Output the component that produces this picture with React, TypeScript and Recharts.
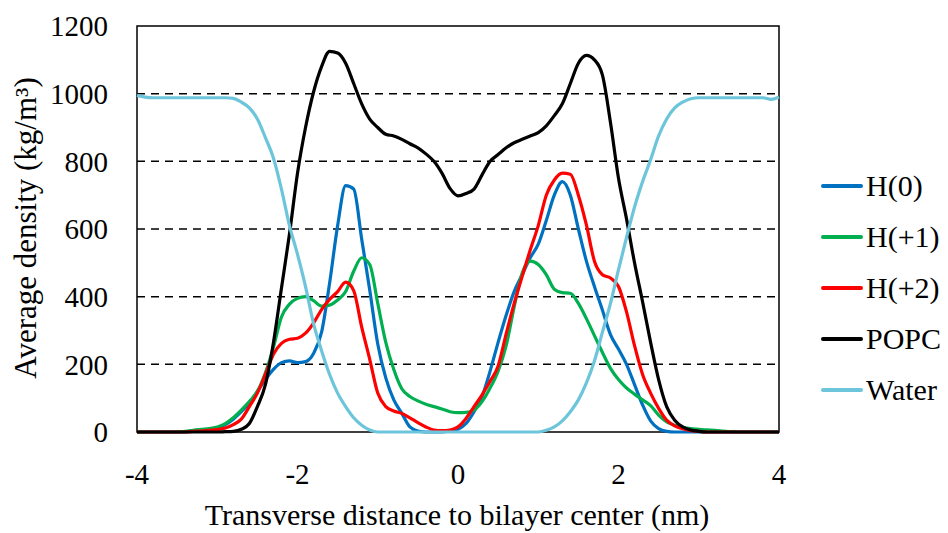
import React, { useEffect, useState } from 'react';
import { LineChart, Line, XAxis, YAxis, CartesianGrid, ReferenceArea, Label } from 'recharts';

// transverse distance to bilayer center (nm), 0.1 nm steps
const distance = [
  -4.0, -3.9, -3.8, -3.7, -3.6, -3.5, -3.4, -3.3, -3.2, -3.1,
  -3.0, -2.9, -2.8, -2.7, -2.6, -2.5, -2.4, -2.3, -2.2, -2.1,
  -2.0, -1.9, -1.8, -1.7, -1.6, -1.5, -1.4, -1.3, -1.2, -1.1,
  -1.0, -0.9, -0.8, -0.7, -0.6, -0.5, -0.4, -0.3, -0.2, -0.1,
  0.0, 0.1, 0.2, 0.3, 0.4, 0.5, 0.6, 0.7, 0.8, 0.9,
  1.0, 1.1, 1.2, 1.3, 1.4, 1.5, 1.6, 1.7, 1.8, 1.9,
  2.0, 2.1, 2.2, 2.3, 2.4, 2.5, 2.6, 2.7, 2.8, 2.9,
  3.0, 3.1, 3.2, 3.3, 3.4, 3.5, 3.6, 3.7, 3.8, 3.9,
  4.0,
];

const h0 = [
  0, 0, 0, 0, 0, 0, 0, 2, 5, 8,
  12, 22, 38, 60, 85, 120, 155, 185, 205, 210,
  205, 208, 232, 295, 440, 610, 728, 718, 570, 420,
  260, 160, 95, 55, 15, 3, 0, 0, 0, 3,
  8, 25, 60, 105, 180, 265, 345, 415, 465, 515,
  555, 625, 700, 740, 700, 600, 505, 430, 360, 288,
  245, 200, 140, 80, 33, 10, 2, 0, 0, 0,
  0, 0, 0, 0, 0, 0, 0, 0, 0, 0,
  0,
];

const h1 = [
  0, 0, 0, 0, 0, 0, 2, 5, 8, 10,
  15, 25, 42, 65, 90, 120, 175, 250, 340, 378,
  395, 400, 388, 372, 375, 390, 415, 475, 515, 495,
  380, 265, 185, 128, 105, 92, 82, 75, 68, 60,
  57, 58, 65, 90, 130, 180, 255, 370, 470, 505,
  495, 465, 422, 412, 410, 380, 335, 285, 235, 188,
  155, 130, 112, 95, 78, 50, 30, 20, 14, 10,
  8, 6, 5, 3, 1, 0, 0, 0, 0, 0,
  0,
];

const h2 = [
  0, 0, 0, 0, 0, 0, 0, 2, 3, 5,
  7, 12, 22, 38, 75, 115, 170, 230, 262, 274,
  277, 292, 322, 362, 392, 415, 443, 418, 310, 215,
  115, 75, 62, 55, 42, 28, 15, 6, 4, 6,
  15, 40, 75, 110, 150, 195, 290, 380, 460, 538,
  610, 700, 745, 765, 762, 700, 612, 505, 465, 455,
  430, 355, 255, 170, 115, 70, 35, 18, 10, 4,
  2, 0, 0, 0, 0, 0, 0, 0, 0, 0,
  0,
];

const popc = [
  0, 0, 0, 0, 0, 0, 0, 0, 0, 0,
  0, 1, 2, 8, 25, 75, 140, 264, 425, 585,
  765, 900, 1005, 1080, 1125, 1120, 1090, 1030, 970, 925,
  900, 880, 875, 865, 852, 840, 822, 800, 765, 720,
  698, 705, 718, 760, 800, 820, 840, 855, 865, 875,
  885, 905, 935, 970, 1030, 1090, 1113, 1100, 1055, 915,
  750, 630, 500, 385, 265, 155, 75, 35, 15, 6,
  2, 0, 0, 0, 0, 0, 0, 0, 0, 0,
  0,
];

const water = [
  995, 990, 988, 988, 988, 988, 988, 988, 988, 988,
  988, 988, 986, 975, 958, 925, 870, 810, 718, 610,
  525, 430, 320, 240, 170, 115, 75, 42, 20, 6,
  0, 0, 0, 0, 0, 0, 0, 0, 0, 0,
  0, 0, 0, 0, 0, 0, 0, 0, 0, 0,
  0, 5, 15, 33, 60, 95, 145, 210, 295, 380,
  480, 575, 665, 740, 805, 875, 925, 958, 975, 985,
  988, 988, 988, 988, 988, 988, 988, 988, 988, 983,
  990,
];

const xTicks = [-4, -2, 0, 2, 4];
const yTicks = [0, 200, 400, 600, 800, 1000, 1200];
const gridValues = [200, 400, 600, 800, 1000];

const series = [
  { key: 'h0', name: 'H(0)', color: '#0070C0', values: h0 },
  { key: 'h1', name: 'H(+1)', color: '#00B050', values: h1 },
  { key: 'h2', name: 'H(+2)', color: '#FF0000', values: h2 },
  { key: 'popc', name: 'POPC', color: '#000000', values: popc },
  { key: 'water', name: 'Water', color: '#6CC5DA', values: water },
];

const data = distance.map((x, i) => {
  const row: Record<string, number> = { x };
  series.forEach((s) => {
    row[s.key] = s.values[i];
  });
  return row;
});

// a single family name only: a fallback list falls through to a sans font here
const font = 'Liberation Serif';
const css = `.density-chart, .density-chart text, .density-chart tspan { font-family: 'Liberation Serif' !important; }`;

export default function App() {
  // re-mount once the serif face is loaded, so no text keeps a fallback face
  const [fontPass, setFontPass] = useState(0);
  useEffect(() => {
    const fonts = (document as any).fonts;
    if (!fonts) return;
    Promise.all([fonts.load("29px 'Liberation Serif'", '0123456789-H(+)POPCWater'), fonts.ready])
      .then(() => setFontPass((n) => n + 1))
      .catch(() => {});
  }, []);

  return (
    <div
      key={fontPass}
      className="density-chart"
      style={{ position: 'absolute', left: 0, top: 0, width: 948, height: 533, background: '#fff', fontFamily: font }}
    >
      <style>{css}</style>
      <LineChart width={948} height={533} data={data} margin={{ top: 26, right: 169, bottom: 41, left: 0 }}>
        <CartesianGrid
          vertical={false}
          horizontalValues={gridValues}
          stroke="#000"
          strokeWidth={1.5}
          strokeDasharray="8 6"
        />
        <ReferenceArea x1={-4} x2={4} y1={0} y2={1200} fill="none" stroke="#000" strokeWidth={1.5} />
        <XAxis
          dataKey="x"
          type="number"
          domain={[-4, 4]}
          ticks={xTicks}
          height={60}
          axisLine={false}
          tickLine={false}
          tickSize={0}
          tickMargin={31}
          tick={{ fill: '#000', fontFamily: font, fontSize: 29 }}
        >
          <Label
            content={() => (
              <text x={457} y={525} textAnchor="middle" fill="#000" fontFamily={font} fontSize={30}>
                Transverse distance to bilayer center (nm)
              </text>
            )}
          />
        </XAxis>
        <YAxis
          type="number"
          domain={[0, 1200]}
          ticks={yTicks}
          width={137}
          axisLine={false}
          tickLine={false}
          tickSize={0}
          tickMargin={29}
          tick={{ fill: '#000', fontFamily: font, fontSize: 29 }}
        >
          <Label
            content={() => (
              <text
                x={36}
                y={228}
                transform="rotate(-90, 36, 228)"
                textAnchor="middle"
                fill="#000"
                fontFamily={font}
                fontSize={31}
              >
                Average density (kg/m³)
              </text>
            )}
          />
        </YAxis>
        {series.map((s) => (
          <Line
            key={s.key}
            type="monotone"
            dataKey={s.key}
            name={s.name}
            stroke={s.color}
            strokeWidth={3.2}
            dot={false}
            isAnimationActive={false}
          />
        ))}
      </LineChart>
      {series.map((s, i) => (
        <div
          key={s.key}
          style={{
            position: 'absolute',
            left: 821,
            top: 186 + i * 51 - 18,
            height: 36,
            display: 'flex',
            alignItems: 'center',
            fontFamily: font,
            fontSize: 30,
            color: '#000',
            whiteSpace: 'nowrap',
          }}
        >
          <span style={{ display: 'inline-block', width: 42, height: 4, borderRadius: 2, background: s.color, marginRight: 3 }} />
          <span>{s.name}</span>
        </div>
      ))}
    </div>
  );
}
